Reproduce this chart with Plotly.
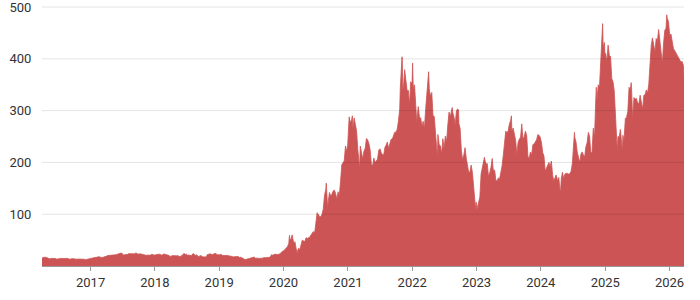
import plotly.graph_objects as go

# Weekly closing prices (split-adjusted)
tsla_2016 = [("2016-03-31",15.3),("2016-04-08",16.7),("2016-04-15",16.9),("2016-04-22",16.8),("2016-04-29",16.0),("2016-05-06",14.1),("2016-05-13",13.9),("2016-05-20",14.7),("2016-05-27",14.9),("2016-06-03",14.5),("2016-06-10",14.6),("2016-06-17",14.4),("2016-06-24",12.9),("2016-07-01",14.4),("2016-07-08",14.5),("2016-07-15",14.6),("2016-07-22",14.8),("2016-07-29",15.0),("2016-08-05",15.3),("2016-08-12",15.0),("2016-08-19",15.0),("2016-08-26",14.6),("2016-09-02",13.2),("2016-09-09",13.0),("2016-09-16",13.8),("2016-09-23",14.2),("2016-09-30",13.6),("2016-10-07",13.3),("2016-10-14",13.1),("2016-10-21",13.4),("2016-10-28",13.5),("2016-11-04",12.7),("2016-11-11",12.6),("2016-11-18",12.4),("2016-11-25",13.1),("2016-12-02",12.1),("2016-12-09",12.8),("2016-12-16",13.5),("2016-12-23",14.2),("2016-12-30",14.2)]

tsla_2017 = [("2017-01-06",15.3),("2017-01-13",15.9),("2017-01-20",16.9),("2017-01-27",16.6),("2017-02-03",16.7),("2017-02-10",17.9),("2017-02-17",18.1),("2017-02-24",17.1),("2017-03-03",16.7),("2017-03-10",16.2),("2017-03-17",17.4),("2017-03-24",17.5),("2017-03-31",18.6),("2017-04-07",20.1),("2017-04-14",20.2),("2017-04-21",20.3),("2017-04-28",20.9),("2017-05-05",20.6),("2017-05-12",21.6),("2017-05-19",20.7),("2017-05-26",21.7),("2017-06-02",22.7),("2017-06-09",23.8),("2017-06-16",24.8),("2017-06-23",25.0),("2017-06-30",24.0),("2017-07-07",20.9),("2017-07-14",21.7),("2017-07-21",21.9),("2017-07-28",22.3),("2017-08-04",23.8),("2017-08-11",23.9),("2017-08-18",23.2),("2017-08-25",23.2),("2017-09-01",23.7),("2017-09-08",23.5),("2017-09-15",25.3),("2017-09-22",23.4),("2017-09-29",22.7),("2017-10-06",23.8),("2017-10-13",23.0),("2017-10-20",23.1),("2017-10-27",21.3),("2017-11-03",20.2),("2017-11-10",20.9),("2017-11-17",20.8),("2017-11-24",21.1),("2017-12-01",20.4),("2017-12-08",21.0),("2017-12-15",22.9),("2017-12-22",21.7),("2017-12-29",20.8)]

tsla_2018 = [("2018-01-05",21.7),("2018-01-12",22.4),("2018-01-19",23.3),("2018-01-26",22.8),("2018-02-02",22.2),("2018-02-09",20.7),("2018-02-16",22.2),("2018-02-23",23.3),("2018-03-02",22.3),("2018-03-09",21.8),("2018-03-16",21.0),("2018-03-23",20.3),("2018-03-30",17.7),("2018-04-06",19.9),("2018-04-13",20.0),("2018-04-20",19.4),("2018-04-27",19.6),("2018-05-04",19.7),("2018-05-11",20.1),("2018-05-18",18.4),("2018-05-25",18.5),("2018-06-01",19.4),("2018-06-08",21.2),("2018-06-15",24.5),("2018-06-22",22.2),("2018-06-29",22.9),("2018-07-06",20.6),("2018-07-13",21.2),("2018-07-20",20.8),("2018-07-27",19.8),("2018-08-03",23.2),("2018-08-10",23.7),("2018-08-17",20.3),("2018-08-24",21.4),("2018-08-31",20.2),("2018-09-07",17.5),("2018-09-14",19.8),("2018-09-21",19.9),("2018-09-28",17.7),("2018-10-05",17.4),("2018-10-12",17.2),("2018-10-19",17.4),("2018-10-26",22.0),("2018-11-02",23.1),("2018-11-09",23.3),("2018-11-16",23.0),("2018-11-23",21.6),("2018-11-30",23.3),("2018-12-07",23.9),("2018-12-14",24.3),("2018-12-21",21.3),("2018-12-28",22.2)]

tsla_2019 = [("2019-01-04",21.2),("2019-01-11",23.1),("2019-01-18",20.2),("2019-01-25",19.8),("2019-02-01",20.8),("2019-02-08",20.3),("2019-02-15",20.5),("2019-02-22",19.6),("2019-03-01",19.6),("2019-03-08",18.9),("2019-03-15",18.3),("2019-03-22",17.6),("2019-03-29",18.7),("2019-04-05",18.5),("2019-04-12",17.9),("2019-04-19",18.3),("2019-04-26",16.5),("2019-05-03",17.0),("2019-05-10",15.9),("2019-05-17",14.1),("2019-05-24",13.0),("2019-05-31",12.4),("2019-06-07",13.0),("2019-06-14",14.2),("2019-06-21",14.8),("2019-06-28",14.9),("2019-07-05",15.6),("2019-07-12",16.5),("2019-07-19",17.2),("2019-07-26",15.2),("2019-08-02",15.6),("2019-08-09",15.1),("2019-08-16",14.6),("2019-08-23",14.1),("2019-08-30",15.0),("2019-09-06",15.2),("2019-09-13",16.5),("2019-09-20",16.0),("2019-09-27",16.1),("2019-10-04",15.5),("2019-10-11",16.5),("2019-10-18",17.3),("2019-10-25",21.9),("2019-11-01",20.9),("2019-11-08",22.5),("2019-11-15",23.0),("2019-11-22",22.2),("2019-11-29",21.9),("2019-12-06",22.4),("2019-12-13",23.9),("2019-12-20",27.5),("2019-12-27",28.7)]

tsla_2020 = [("2020-01-03",29.5),("2020-01-10",31.9),("2020-01-17",34.3),("2020-01-24",37.6),("2020-01-31",43.4),("2020-02-04",59.1),("2020-02-07",49.9),("2020-02-14",53.3),("2020-02-19",60.1),("2020-02-21",56.9),("2020-02-28",44.5),("2020-03-06",46.9),("2020-03-13",36.4),("2020-03-18",24.1),("2020-03-20",28.5),("2020-03-27",34.3),("2020-04-03",32.0),("2020-04-09",38.2),("2020-04-17",50.1),("2020-04-24",48.3),("2020-05-01",46.8),("2020-05-08",54.6),("2020-05-15",53.3),("2020-05-22",54.5),("2020-05-29",55.7),("2020-06-05",59.9),("2020-06-12",62.4),("2020-06-19",66.6),("2020-06-26",63.9),("2020-07-02",80.6),("2020-07-10",102.9),("2020-07-13",95.5),("2020-07-17",100.0),("2020-07-24",94.5),("2020-07-31",95.4),("2020-08-07",99.9),("2020-08-14",110.0),("2020-08-21",136.7),("2020-08-28",147.6),("2020-08-31",160.0),("2020-09-04",139.4),("2020-09-08",110.1),("2020-09-11",124.2),("2020-09-18",141.9),("2020-09-25",135.7),("2020-10-02",138.4),("2020-10-09",144.7),("2020-10-16",146.6),("2020-10-23",140.0),("2020-10-30",129.3),("2020-11-06",143.3),("2020-11-13",136.2),("2020-11-20",163.2),("2020-11-27",195.3),("2020-12-04",199.3),("2020-12-11",203.3),("2020-12-18",231.7),("2020-12-24",220.6),("2020-12-31",235.2)]

tsla_2021 = [("2021-01-08",288.0),("2021-01-15",276.4),("2021-01-22",282.2),("2021-01-26",290.0),("2021-01-29",264.5),("2021-02-05",285.9),("2021-02-12",272.8),("2021-02-19",260.9),("2021-02-26",225.2),("2021-03-05",199.3),("2021-03-08",187.7),("2021-03-12",231.6),("2021-03-19",218.3),("2021-03-26",206.2),("2021-04-01",220.6),("2021-04-09",227.5),("2021-04-16",246.3),("2021-04-23",243.3),("2021-04-30",236.5),("2021-05-07",224.6),("2021-05-14",196.6),("2021-05-21",193.6),("2021-05-28",208.4),("2021-06-04",199.7),("2021-06-11",203.3),("2021-06-18",206.3),("2021-06-25",223.7),("2021-07-02",226.3),("2021-07-09",218.9),("2021-07-16",215.3),("2021-07-23",214.4),("2021-07-30",229.1),("2021-08-06",233.6),("2021-08-13",239.5),("2021-08-20",226.8),("2021-08-27",237.5),("2021-09-03",244.7),("2021-09-10",245.3),("2021-09-17",253.0),("2021-09-24",258.4),("2021-10-01",258.4),("2021-10-08",264.5),("2021-10-15",281.0),("2021-10-22",303.2),("2021-10-25",341.6),("2021-10-29",371.3),("2021-11-04",404.0),("2021-11-05",402.0),("2021-11-09",341.2),("2021-11-12",343.0),("2021-11-19",379.0),("2021-11-26",360.6),("2021-12-03",338.3),("2021-12-10",339.0),("2021-12-17",310.9),("2021-12-23",355.7),("2021-12-31",352.3)]

tsla_2022 = [("2022-01-03",392.0),("2022-01-07",342.3),("2022-01-14",349.9),("2022-01-21",314.6),("2022-01-27",276.4),("2022-01-28",282.1),("2022-02-04",307.8),("2022-02-11",287.0),("2022-02-18",285.7),("2022-02-25",269.9),("2022-03-04",279.4),("2022-03-11",265.1),("2022-03-18",302.0),("2022-03-25",336.9),("2022-04-01",361.5),("2022-04-04",375.0),("2022-04-08",341.8),("2022-04-14",328.3),("2022-04-22",335.0),("2022-04-29",290.3),("2022-05-06",288.6),("2022-05-13",256.5),("2022-05-20",221.3),("2022-05-24",209.4),("2022-05-27",253.9),("2022-06-03",234.3),("2022-06-10",232.0),("2022-06-17",216.8),("2022-06-24",245.7),("2022-07-01",227.3),("2022-07-08",250.8),("2022-07-15",240.1),("2022-07-22",272.2),("2022-07-29",297.1),("2022-08-05",288.2),("2022-08-12",300.0),("2022-08-16",306.0),("2022-08-19",296.7),("2022-08-26",288.1),("2022-09-02",272.7),("2022-09-09",299.7),("2022-09-16",303.4),("2022-09-21",300.8),("2022-09-23",275.3),("2022-09-30",265.3),("2022-10-07",223.1),("2022-10-14",205.0),("2022-10-21",214.4),("2022-10-28",228.5),("2022-11-04",207.5),("2022-11-11",196.0),("2022-11-18",180.2),("2022-11-25",182.9),("2022-12-02",194.9),("2022-12-09",179.1),("2022-12-16",150.2),("2022-12-23",123.2),("2022-12-27",109.1),("2022-12-30",123.2)]

tsla_2023 = [("2023-01-03",108.1),("2023-01-06",113.1),("2023-01-13",122.4),("2023-01-20",133.4),("2023-01-27",177.9),("2023-02-03",190.0),("2023-02-10",196.9),("2023-02-15",210.0),("2023-02-17",205.0),("2023-02-24",196.9),("2023-03-03",197.8),("2023-03-10",173.4),("2023-03-17",180.1),("2023-03-24",190.4),("2023-03-31",207.5),("2023-04-06",185.1),("2023-04-14",185.0),("2023-04-21",165.1),("2023-04-28",164.3),("2023-05-05",170.1),("2023-05-12",168.0),("2023-05-19",180.1),("2023-05-26",193.2),("2023-06-02",214.0),("2023-06-09",244.4),("2023-06-16",260.5),("2023-06-23",256.6),("2023-06-30",261.8),("2023-07-07",274.4),("2023-07-14",281.4),("2023-07-18",290.0),("2023-07-21",260.0),("2023-07-28",266.4),("2023-08-04",253.9),("2023-08-11",242.7),("2023-08-18",215.5),("2023-08-25",238.6),("2023-09-01",245.0),("2023-09-08",248.5),("2023-09-15",274.4),("2023-09-22",244.9),("2023-09-29",250.2),("2023-10-06",260.5),("2023-10-13",251.1),("2023-10-20",212.0),("2023-10-27",207.3),("2023-11-03",220.0),("2023-11-10",214.7),("2023-11-17",234.3),("2023-11-24",235.5),("2023-12-01",238.8),("2023-12-08",243.8),("2023-12-15",253.5),("2023-12-22",252.5),("2023-12-29",248.5)]

tsla_2024 = [("2024-01-05",237.5),("2024-01-12",218.9),("2024-01-19",212.2),("2024-01-26",183.3),("2024-02-02",187.9),("2024-02-09",193.6),("2024-02-16",200.0),("2024-02-23",192.0),("2024-03-01",202.6),("2024-03-08",175.3),("2024-03-15",163.6),("2024-03-22",170.8),("2024-03-28",175.8),("2024-04-05",164.9),("2024-04-12",171.1),("2024-04-19",147.1),("2024-04-22",142.1),("2024-04-26",168.3),("2024-05-03",181.2),("2024-05-10",168.5),("2024-05-17",177.5),("2024-05-24",179.2),("2024-05-31",178.1),("2024-06-07",177.5),("2024-06-14",178.0),("2024-06-21",183.0),("2024-06-28",197.9),("2024-07-05",251.5),("2024-07-10",258.0),("2024-07-12",248.2),("2024-07-19",239.2),("2024-07-26",219.8),("2024-08-02",207.7),("2024-08-09",200.0),("2024-08-16",216.1),("2024-08-23",220.3),("2024-08-30",214.1),("2024-09-06",210.7),("2024-09-13",230.3),("2024-09-20",238.3),("2024-09-27",258.0),("2024-10-04",250.1),("2024-10-11",217.8),("2024-10-18",220.7),("2024-10-25",266.0),("2024-11-01",249.0),("2024-11-08",321.2),("2024-11-11",345.0),("2024-11-15",320.7),("2024-11-22",350.0),("2024-11-29",345.2),("2024-12-06",389.2),("2024-12-13",436.2),("2024-12-17",468.0),("2024-12-20",421.1),("2024-12-27",431.7),("2024-12-31",403.8)]

tsla_2025 = [("2025-01-03",410.4),("2025-01-10",394.7),("2025-01-17",426.5),("2025-01-24",406.6),("2025-01-31",404.6),("2025-02-07",361.6),("2025-02-14",355.8),("2025-02-21",337.8),("2025-02-28",293.0),("2025-03-07",262.7),("2025-03-10",222.2),("2025-03-14",250.0),("2025-03-21",248.7),("2025-03-28",263.6),("2025-04-04",239.4),("2025-04-08",221.9),("2025-04-11",252.3),("2025-04-17",241.4),("2025-04-25",285.0),("2025-05-02",287.2),("2025-05-09",298.3),("2025-05-16",345.0),("2025-05-23",339.3),("2025-05-28",354.0),("2025-05-30",346.5),("2025-06-05",284.7),("2025-06-13",325.3),("2025-06-20",322.2),("2025-06-27",323.6),("2025-07-03",315.4),("2025-07-11",313.5),("2025-07-18",329.7),("2025-07-25",316.1),("2025-08-01",302.6),("2025-08-08",329.7),("2025-08-15",330.6),("2025-08-22",340.0),("2025-08-29",333.9),("2025-09-05",350.8),("2025-09-12",395.9),("2025-09-19",426.1),("2025-09-26",440.4),("2025-10-03",429.8),("2025-10-10",413.5),("2025-10-17",439.3),("2025-10-24",433.7),("2025-10-31",456.6),("2025-11-07",429.5),("2025-11-14",404.4),("2025-11-21",391.1),("2025-11-28",430.2),("2025-12-05",455.0),("2025-12-12",459.0),("2025-12-16",485.0),("2025-12-19",478.0),("2025-12-26",472.0),("2025-12-31",449.7)]

tsla_2026 = [("2026-01-02",445.0),("2026-01-09",448.0),("2026-01-16",432.0),("2026-01-23",420.0),("2026-01-30",416.0),("2026-02-06",411.0),("2026-02-13",408.0),("2026-02-20",402.0),("2026-02-27",398.0),("2026-03-06",394.0),("2026-03-13",395.0),("2026-03-20",388.0),("2026-03-24",367.0)]

y_tick_values = [100, 200, 300, 400, 500]

series = tsla_2016 + tsla_2017 + tsla_2018 + tsla_2019 + tsla_2020 + tsla_2021 + tsla_2022 + tsla_2023 + tsla_2024 + tsla_2025 + tsla_2026
dates = [d for d, _ in series]
closes = [v for _, v in series]

fill_color = "rgb(205,84,84)"

fig = go.Figure()
fig.add_trace(go.Scatter(
    x=dates, y=closes, mode="lines", fill="tozeroy",
    line=dict(color=fill_color, width=0.8), fillcolor=fill_color,
    hoverinfo="skip", showlegend=False,
))

for v in y_tick_values:
    fig.add_shape(type="line", xref="paper", x0=0, x1=1, yref="y", y0=v, y1=v,
                  line=dict(color="rgba(0,0,0,0.11)", width=1), layer="above")

fig.update_layout(
    width=700, height=300,
    margin=dict(l=42, r=16, t=6, b=34),
    paper_bgcolor="white", plot_bgcolor="white",
    font=dict(family="Roboto", size=13, color="#333333"),
    xaxis=dict(
        type="date", showgrid=False, zeroline=False, automargin=False,
        showline=True, linecolor="#9a9a9a", linewidth=1,
        ticks="outside", ticklen=4, tickcolor="#9a9a9a",
        dtick="M12", tick0="2017-01-01", tickformat="%Y",
    ),
    yaxis=dict(
        range=[0, 502], showgrid=False, zeroline=False, showline=False,
        automargin=False,
        tickvals=y_tick_values, ticks="outside", ticklen=7,
        tickcolor="rgba(0,0,0,0)", ticklabeloverflow="allow",
    ),
)

fig.write_html("out.html")
